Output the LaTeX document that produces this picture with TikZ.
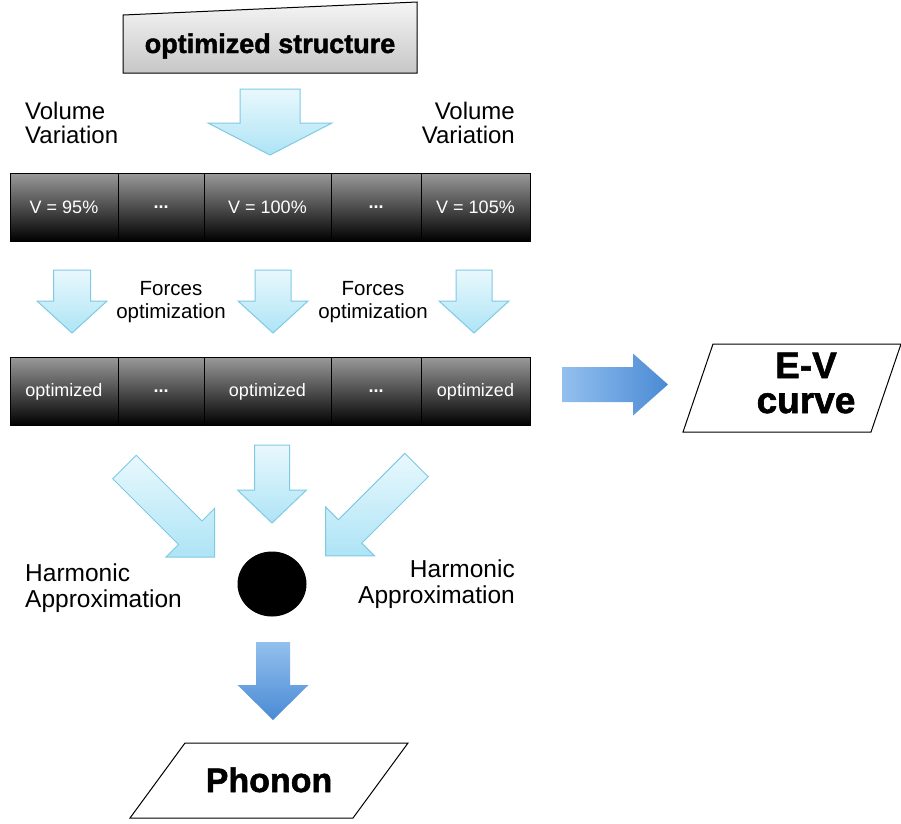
\documentclass[tikz,border=0pt]{standalone}
\usepackage{fontspec}
\setmainfont{Liberation Sans}
\newfontfamily\heavyfont[FakeBold=1.6]{Liberation Sans Bold}
\usetikzlibrary{shapes.geometric}

\definecolor{skylight}{HTML}{E9F8FD}
\definecolor{skydeep}{HTML}{ADE4F6}
\definecolor{skyedge}{HTML}{7FCAE3}
\definecolor{bluelight}{HTML}{93C0EE}
\definecolor{bluedeep}{HTML}{4A8AD4}

% block arrow: style, tail centre, rotation, shaft half width, shaft length, head half width, head length
\newcommand{\blockarrow}[7]{%
  \path[#1, shift={(#2)}, rotate=#3] (-#4,0) -- (#4,0) -- (#4,#5) -- (#6,#5)
    -- (0,#5+#7) -- (-#6,#5) -- (-#4,#5) -- cycle;}

\begin{document}
\begin{tikzpicture}[x=1pt, y=-1pt,
    vcell/.style={draw=black, top color=black!40, bottom color=black, text=white,
      minimum height=68, inner sep=0, font=\fontsize{18}{20}\selectfont},
    skyarrow/.style={draw=skyedge, line width=1, top color=skylight, bottom color=skydeep},
    bluearrow/.style={top color=bluelight, bottom color=bluedeep},
    note/.style={inner sep=0, font=\fontsize{24}{24}\selectfont},
    heavy/.style={inner sep=0, font=\heavyfont\fontsize{#1}{#1}\selectfont},
    slab/.style={draw=black, fill=white, line width=1}]
    \useasboundingbox (0,0) rectangle (901,823);

    % starting structure
    \path[draw=black, line width=1, top color=black!4, bottom color=black!22]
      (123,15) -- (417,2) -- (417,73) -- (123,73) -- cycle;
    \node[heavy=27, anchor=base] (start) at (270,53) {optimized structure};

    \blockarrow{skyarrow}{270,89}{0}{30}{34}{62}{32}
    \node[note, align=left, anchor=west] (varL) at (25,123) {Volume\\Variation};
    \node[note, align=right, anchor=east] (varR) at (515,123) {Volume\\Variation};

    % volumes
    \node[vcell, minimum width=108] (v95) at (64,207) {V = 95\%};
    \node[vcell, minimum width=86] (vdotsA) at (161,207) {\textbf{...}};
    \node[vcell, minimum width=127] (v100) at (267.5,207) {V = 100\%};
    \node[vcell, minimum width=90] (vdotsB) at (376,207) {\textbf{...}};
    \node[vcell, minimum width=109] (v105) at (475.5,207) {V = 105\%};

    \blockarrow{skyarrow}{72,270}{0}{18.5}{31}{35}{32}
    \blockarrow{skyarrow}{273,270}{0}{18}{31}{35}{32}
    \blockarrow{skyarrow}{474,270}{0}{18}{31}{35}{32}
    \node[note, font=\fontsize{20.5}{23}\selectfont, align=center] (forceA) at (171,302) {Forces\\optimization};
    \node[note, font=\fontsize{20.5}{23}\selectfont, align=center] (forceB) at (373,302) {Forces\\optimization};

    % relaxed cells
    \node[vcell, minimum width=108] (o95) at (64,391.5) {optimized};
    \node[vcell, minimum width=86] (odotsA) at (161,391.5) {\textbf{...}};
    \node[vcell, minimum width=127] (o100) at (267.5,391.5) {optimized};
    \node[vcell, minimum width=90] (odotsB) at (376,391.5) {\textbf{...}};
    \node[vcell, minimum width=109] (o105) at (475.5,391.5) {optimized};

    % E-V curve
    \blockarrow{bluearrow, left color=bluelight, right color=bluedeep}{562,384.5}{90}{17.5}{71}{31}{35}
    \path[slab] (683,432) -- (871,432) -- (901,344) -- (713,344) -- cycle;
    \node[heavy=36, align=center, font=\heavyfont\fontsize{37}{35}\selectfont] (ev) at (806,383) {E-V\\curve};

    % harmonic approximation
    \blockarrow{skyarrow}{124.5,467}{45}{16.6}{93}{34.3}{34.3}
    \blockarrow{skyarrow}{272,445}{0}{17.5}{45}{34.5}{33}
    \blockarrow{skyarrow}{416.5,465}{-45}{16.6}{94}{34.5}{34.5}
    \node[note, font=\fontsize{24.5}{26}\selectfont, align=left, anchor=west] (harmL) at (25,588) {Harmonic\\Approximation};
    \node[note, font=\fontsize{24.5}{26}\selectfont, align=right, anchor=east] (harmR) at (515,584) {Harmonic\\Approximation};
    \node[ellipse, fill=black, minimum width=69, minimum height=65, inner sep=0] (hub) at (272,584) {};

    % phonon
    \blockarrow{bluearrow}{273,642}{0}{17}{43}{35.5}{35}
    \path[slab] (130,818) -- (353,818) -- (408,743) -- (185,743) -- cycle;
    \node[heavy=34, anchor=base] (phonon) at (269,792) {Phonon};
\end{tikzpicture}
\end{document}
